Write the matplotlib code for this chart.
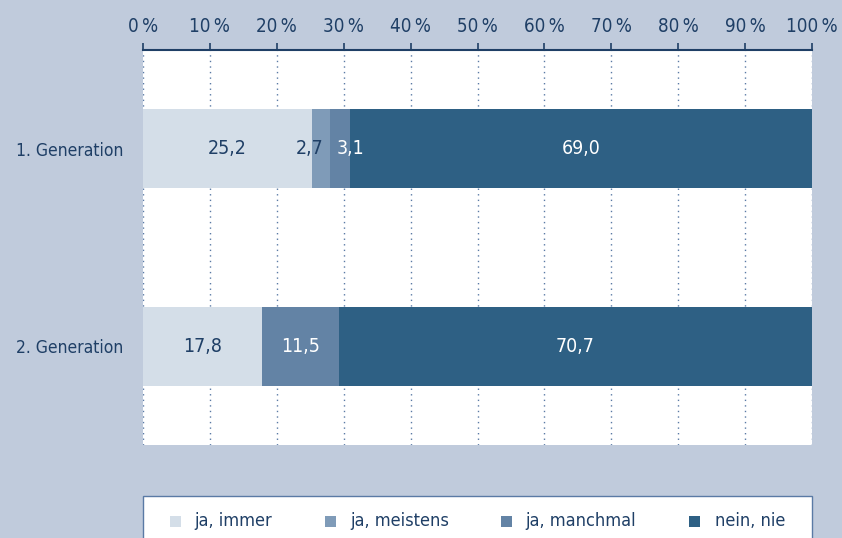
import matplotlib.pyplot as plt
from matplotlib.patches import Rectangle

plt.rcParams['font.family'] = ['DejaVu Sans']
plt.rcParams['font.stretch'] = 'condensed'

groups = ["1. Generation", "2. Generation"]
series = ["ja, immer", "ja, meistens", "ja, manchmal", "nein, nie"]
values = {
    "ja, immer": [25.2, 17.8],
    "ja, meistens": [2.7, 0.0],
    "ja, manchmal": [3.1, 11.5],
    "nein, nie": [69.0, 70.7],
}
colors = ["#d4dee8", "#7f9bb8", "#6383a5", "#2e6084"]
text_colors = ["#1f3f66", "#1f3f66", "white", "white"]
ticks = [0, 10, 20, 30, 40, 50, 60, 70, 80, 90, 100]

bg = "#c0cbdc"
navy = "#1f3f66"

fig = plt.figure(figsize=(8.42, 5.38), dpi=100, facecolor=bg)
ax = fig.add_axes([143/842, 1-445/538, (812-143)/842, (445-50)/538])
ax.set_facecolor("white")

ypos = [1, 3]
left = [0.0, 0.0]
for i, name in enumerate(series):
    vals = values[name]
    ax.barh(ypos, vals, left=left, height=0.8, color=colors[i], zorder=3)
    for j, v in enumerate(vals):
        if v <= 0:
            continue
        lab = f"{v:.1f}".replace(".", ",")
        # narrow segments: push labels apart so they don't collide
        if v < 5 and i == 1:
            ax.text(left[j] + v - 0.9, ypos[j], lab, ha="right", va="center",
                    fontsize=14, color=text_colors[i], zorder=4)
        elif v < 5:
            ax.text(left[j] + 1.1, ypos[j], lab, ha="left", va="center",
                    fontsize=14, color=text_colors[i], zorder=4)
        else:
            ax.text(left[j] + v/2, ypos[j], lab, ha="center", va="center",
                    fontsize=14, color=text_colors[i], zorder=4)
    left = [left[k] + vals[k] for k in range(len(vals))]

ax.set_xlim(0, 100)
ax.set_ylim(4, 0)
ax.set_yticks(ypos)
ax.set_yticklabels(groups, fontsize=12.5, color=navy)
ax.tick_params(axis="y", length=0, pad=14)
ax.xaxis.tick_top()
ax.set_xticks(ticks)
ax.set_xticklabels([f"{t}\u2009%" for t in ticks], fontsize=13.5, color=navy)
ax.tick_params(axis="x", direction="out", length=5, width=1.2, color=navy, pad=5)
ax.grid(axis="x", linestyle=(0, (1, 3)), color="#5a7aa5", linewidth=1.0, zorder=1)
for s in ["bottom", "left", "right"]:
    ax.spines[s].set_visible(False)
ax.spines["top"].set_color(navy)
ax.spines["top"].set_linewidth(1.5)

# legend box at the bottom
fig.patches.append(Rectangle((143/842, -0.05), (812-143)/842, 0.05 + (538-496)/538,
                             transform=fig.transFigure, facecolor="white",
                             edgecolor="#5a7aa5", linewidth=1.0))
leg_sq = [175.5, 330.5, 506, 694.5]
leg_tx = [194, 350, 525, 715]
ly = 1 - 521/538
for i, name in enumerate(series):
    fig.patches.append(Rectangle(((leg_sq[i]-5.5)/842, ly - 5.5/538), 11/842, 11/538,
                                 transform=fig.transFigure, facecolor=colors[i],
                                 edgecolor="none"))
    fig.text(leg_tx[i]/842, ly, name, ha="left", va="center", fontsize=13, color=navy)

fig.savefig("out.png", dpi=100, facecolor=bg)
